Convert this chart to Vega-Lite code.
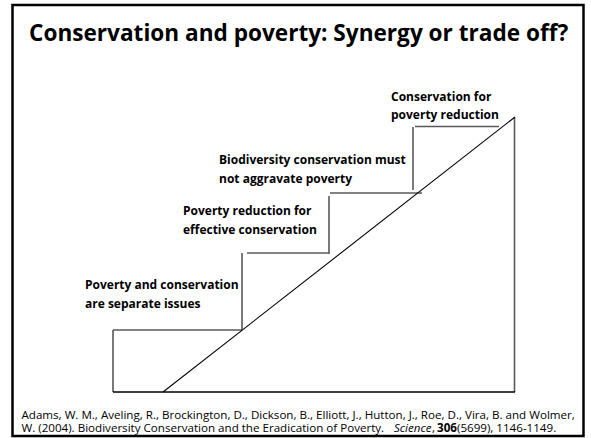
{
  "$schema": "https://vega.github.io/schema/vega-lite/v6.json",
  "width": 591,
  "height": 438,
  "autosize": {"type": "fit", "contains": "padding"},
  "padding": 0,
  "background": "white",
  "config": {"view": {"stroke": null}},
  "datasets": {
    "frame": [{"x": 12.5, "y": 5, "x2": 583.5, "y2": 436}],
    "segs": [
      {"x": 113, "y": 392, "x2": 113, "y2": 330, "kind": "step"},
      {"x": 113, "y": 330, "x2": 242, "y2": 330, "kind": "step"},
      {"x": 242, "y": 330, "x2": 242, "y2": 253, "kind": "step"},
      {"x": 247, "y": 253, "x2": 329, "y2": 253, "kind": "step"},
      {"x": 329, "y": 254, "x2": 329, "y2": 196, "kind": "step"},
      {"x": 330, "y": 193, "x2": 422, "y2": 193, "kind": "step"},
      {"x": 413, "y": 190, "x2": 413, "y2": 127, "kind": "step"},
      {"x": 415, "y": 126.5, "x2": 499, "y2": 126.5, "kind": "step"},
      {"x": 514.5, "y": 117, "x2": 514.5, "y2": 392, "kind": "step"},
      {"x": 113, "y": 392, "x2": 515, "y2": 392, "kind": "base"},
      {"x": 163, "y": 392, "x2": 515, "y2": 117, "kind": "diag"}
    ],
    "labels": [
      {"x": 85, "y": 289, "text": "Poverty and conservation"},
      {"x": 85, "y": 308, "text": "are separate issues"},
      {"x": 183, "y": 215, "text": "Poverty reduction for"},
      {"x": 183, "y": 234, "text": "effective conservation"},
      {"x": 219, "y": 164, "text": "Biodiversity conservation must"},
      {"x": 219, "y": 183, "text": "not aggravate poverty"},
      {"x": 391, "y": 101, "text": "Conservation for"},
      {"x": 391, "y": 118.5, "text": "poverty reduction"}
    ],
    "title": [{"x": 29, "y": 41, "text": "Conservation and poverty: Synergy or trade off?"}],
    "cite": [
      {"x": 21.5, "y": 418.5, "text": "Adams, W. M., Aveling, R., Brockington, D., Dickson, B., Elliott, J., Hutton, J., Roe, D., Vira, B. and Wolmer,"},
      {"x": 21.5, "y": 431.5, "text": "W. (2004). Biodiversity Conservation and the Eradication of Poverty."},
      {"x": 432, "y": 431.5, "text": ","},
      {"x": 457, "y": 431.5, "text": "(5699), 1146-1149."}
    ],
    "citeItalic": [{"x": 394, "y": 431.5, "text": "Science"}],
    "citeBold": [{"x": 437, "y": 431.5, "text": "306"}]
  },
  "layer": [
    {
      "data": {"name": "frame"},
      "mark": {"type": "rect", "fill": null, "stroke": "#000000", "strokeWidth": 2.5},
      "encoding": {
        "x": {"field": "x", "type": "quantitative", "scale": {"domain": [0, 591], "nice": false, "zero": false}, "axis": null},
        "x2": {"field": "x2"},
        "y": {"field": "y", "type": "quantitative", "scale": {"domain": [0, 438], "nice": false, "zero": false, "reverse": true}, "axis": null},
        "y2": {"field": "y2"}
      }
    },
    {
      "data": {"name": "segs"},
      "transform": [{"filter": "datum.kind === 'step'"}],
      "mark": {"type": "rule", "color": "#595959", "strokeWidth": 1.6},
      "encoding": {
        "x": {"field": "x", "type": "quantitative"},
        "x2": {"field": "x2"},
        "y": {"field": "y", "type": "quantitative"},
        "y2": {"field": "y2"}
      }
    },
    {
      "data": {"name": "segs"},
      "transform": [{"filter": "datum.kind === 'base'"}],
      "mark": {"type": "rule", "color": "#000000", "strokeWidth": 1.6},
      "encoding": {
        "x": {"field": "x", "type": "quantitative"},
        "x2": {"field": "x2"},
        "y": {"field": "y", "type": "quantitative"},
        "y2": {"field": "y2"}
      }
    },
    {
      "data": {"name": "segs"},
      "transform": [{"filter": "datum.kind === 'diag'"}],
      "mark": {"type": "rule", "color": "#000000", "strokeWidth": 1.1},
      "encoding": {
        "x": {"field": "x", "type": "quantitative"},
        "x2": {"field": "x2"},
        "y": {"field": "y", "type": "quantitative"},
        "y2": {"field": "y2"}
      }
    },
    {
      "data": {"name": "title"},
      "mark": {"type": "text", "align": "left", "baseline": "alphabetic", "font": "Open Sans", "fontWeight": "bold", "fontSize": 22.6, "color": "#000000"},
      "encoding": {
        "x": {"field": "x", "type": "quantitative"},
        "y": {"field": "y", "type": "quantitative"},
        "text": {"field": "text"}
      }
    },
    {
      "data": {"name": "labels"},
      "mark": {"type": "text", "align": "left", "baseline": "alphabetic", "font": "Open Sans", "fontWeight": "bold", "fontSize": 12, "color": "#000000"},
      "encoding": {
        "x": {"field": "x", "type": "quantitative"},
        "y": {"field": "y", "type": "quantitative"},
        "text": {"field": "text"}
      }
    },
    {
      "data": {"name": "cite"},
      "mark": {"type": "text", "align": "left", "baseline": "alphabetic", "font": "Open Sans", "fontSize": 11.6, "color": "#000000"},
      "encoding": {
        "x": {"field": "x", "type": "quantitative"},
        "y": {"field": "y", "type": "quantitative"},
        "text": {"field": "text"}
      }
    },
    {
      "data": {"name": "citeItalic"},
      "mark": {"type": "text", "align": "left", "baseline": "alphabetic", "font": "Open Sans", "fontStyle": "italic", "fontSize": 11.6, "color": "#000000"},
      "encoding": {
        "x": {"field": "x", "type": "quantitative"},
        "y": {"field": "y", "type": "quantitative"},
        "text": {"field": "text"}
      }
    },
    {
      "data": {"name": "citeBold"},
      "mark": {"type": "text", "align": "left", "baseline": "alphabetic", "font": "Open Sans", "fontWeight": "bold", "fontSize": 11.6, "color": "#000000"},
      "encoding": {
        "x": {"field": "x", "type": "quantitative"},
        "y": {"field": "y", "type": "quantitative"},
        "text": {"field": "text"}
      }
    }
  ]
}
